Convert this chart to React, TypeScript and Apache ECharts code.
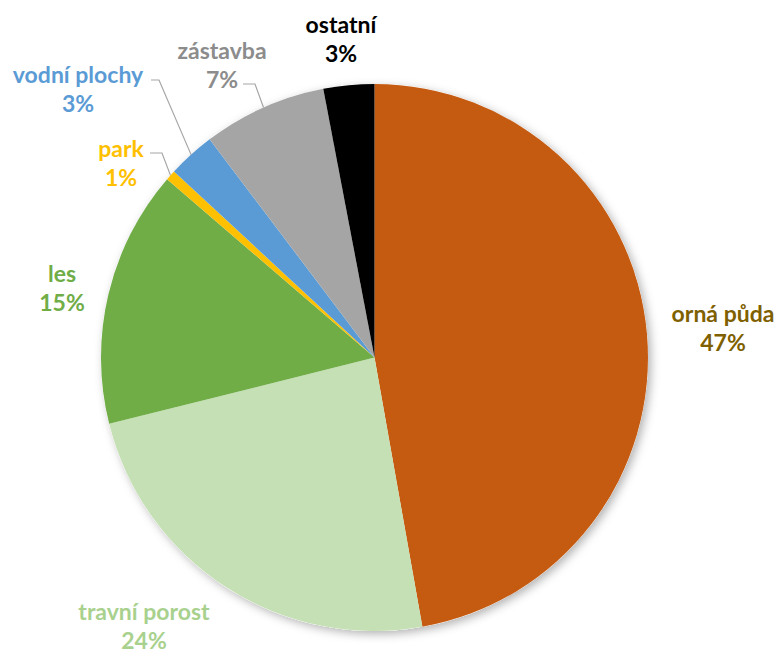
import React, { useEffect, useRef } from "react";
import * as echarts from "echarts";

const categories = ["orná půda", "travní porost", "les", "park", "vodní plochy", "zástavba", "ostatní"];
const values = [47.2, 23.9, 15.2, 0.6, 2.8, 7.3, 3.0];
const sliceColors = ["#C55A11", "#C5E0B4", "#70AD47", "#FFC000", "#5B9BD5", "#A5A5A5", "#000000"];
const labelColors = ["#7F6000", "#A9D18E", "#70AD47", "#FFC000", "#5B9BD5", "#8C8C8C", "#000000"];
const showLeader = [false, false, false, true, true, true, false];

// layout (label block centers, leader line starts)
const labelPos: number[][] = [
  [723, 327],
  [144, 625],
  [62, 287],
  [121, 162],
  [78, 88],
  [222, 64],
  [341, 38],
];
const leaderStart: (number[] | null)[] = [null, null, null, [150, 153, 12], [151, 80, 8], [243, 84, 12], null];

export default function App() {
  const ref = useRef<HTMLDivElement>(null);
  useEffect(() => {
    if (!ref.current) return;
    const chart = echarts.init(ref.current, null, { renderer: "svg" });
    const data = categories.map((name, i) => ({
      name,
      value: values[i],
      itemStyle: { color: sliceColors[i] },
      label: { color: labelColors[i] },
      labelLine: { show: showLeader[i] },
    }));
    chart.setOption({
      animation: false,
      backgroundColor: "#ffffff",
      series: [
        {
          type: "pie",
          silent: true,
          center: [374.5, 357.5],
          radius: 273.5,
          z: 1,
          label: { show: false },
          labelLine: { show: false },
          itemStyle: {
            color: "#ffffff",
            shadowBlur: 10,
            shadowColor: "rgba(0,0,0,0.3)",
            shadowOffsetX: 3,
            shadowOffsetY: 3,
          },
          data: [{ value: 1, name: "" }],
        },
        {
          type: "pie",
          z: 2,
          center: [374.5, 357.5],
          radius: 273.5,
          startAngle: 90,
          clockwise: true,
          percentPrecision: 0,
          avoidLabelOverlap: false,
          itemStyle: { borderWidth: 0 },
          label: {
            show: true,
            position: "outside",
            formatter: "{b}\n{d}%",
            fontFamily: "Lato",
            fontWeight: "bold",
            fontSize: 23,
            lineHeight: 29,
          },
          labelLine: {
            lineStyle: { color: "#A6A6A6", width: 1.2 },
          },
          labelLayout: (params: any) => {
            const i = params.dataIndex;
            const p = labelPos[i];
            const res: any = { x: p[0], y: p[1], align: "center", verticalAlign: "middle" };
            const ls = leaderStart[i];
            if (ls && params.labelLinePoints) {
              const edge = params.labelLinePoints[0];
              res.labelLinePoints = [
                [ls[0], ls[1]],
                [ls[0] + ls[2], ls[1]],
                [edge[0], edge[1]],
              ];
            }
            return res;
          },
          data,
        },
      ],
    });
    return () => chart.dispose();
  }, []);
  return <div ref={ref} style={{ position: "fixed", left: 0, top: 0, width: 779, height: 657 }} />;
}
